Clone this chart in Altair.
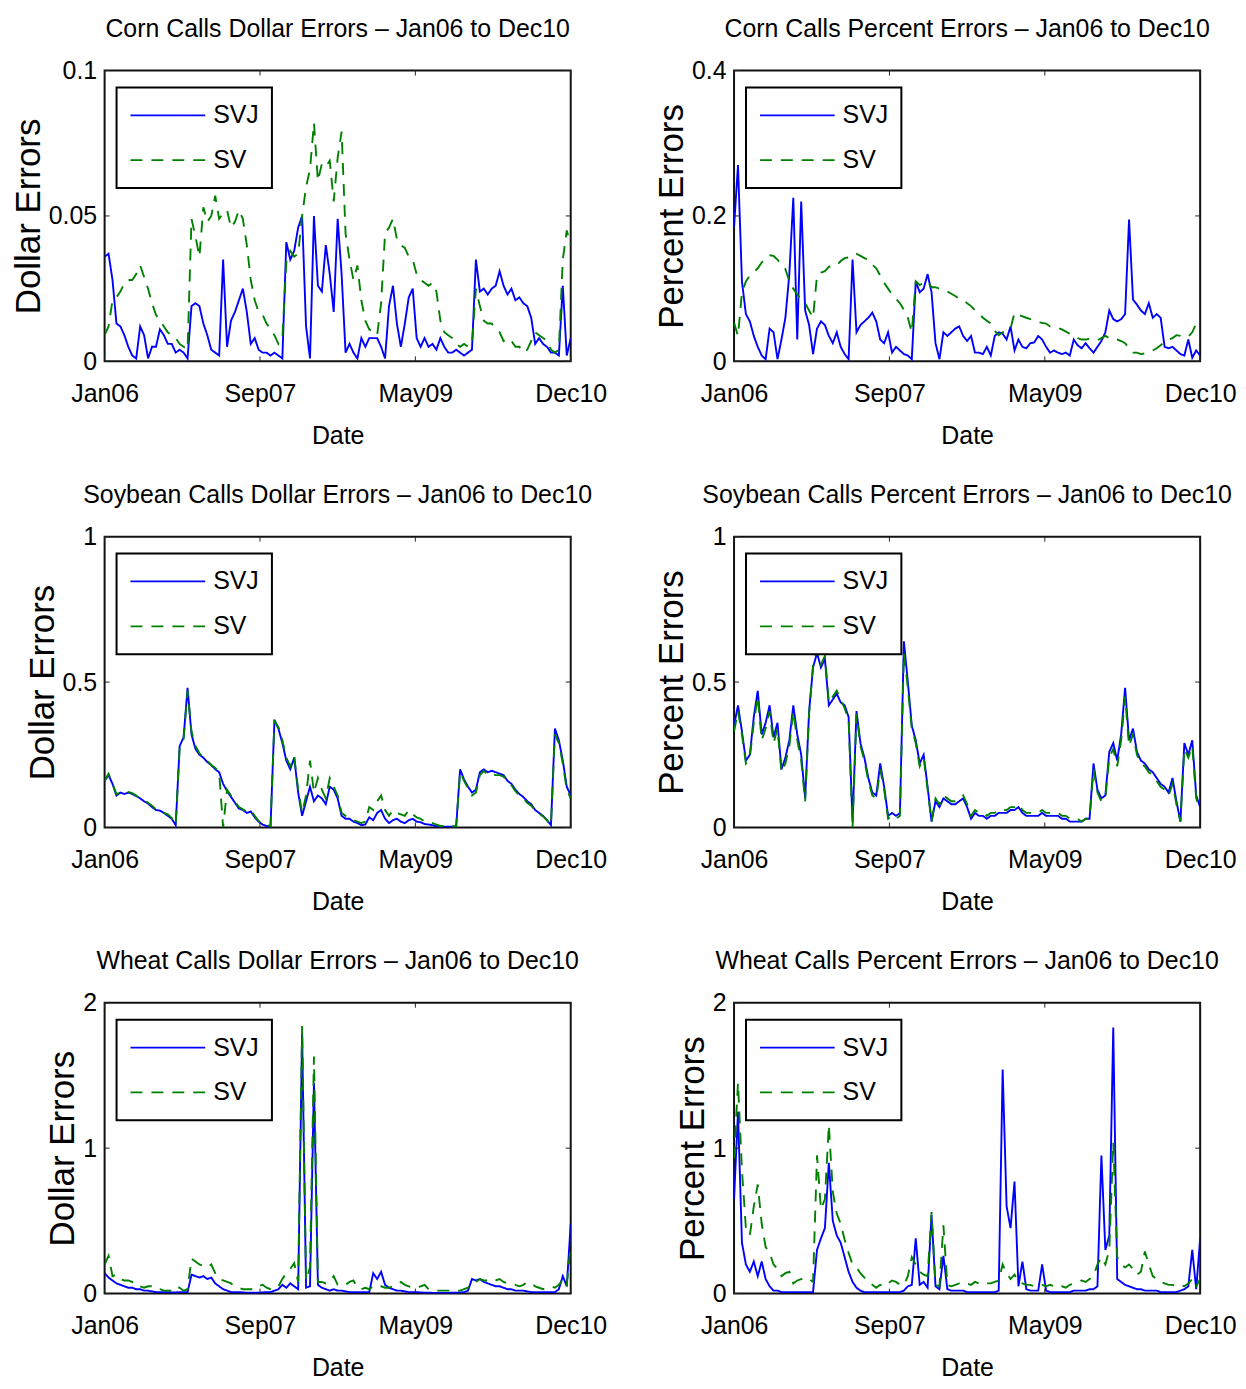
import json
import altair as alt
import pandas as pd

FONT = "'Liberation Sans', Arial, sans-serif"

SERIES = ["SVJ", "SV"]
COLORS = ["#0000ff", "#008000"]
DASHES = [[1, 0], [12, 9]]
X_TICK_LABELS = ["Jan06", "Sep07", "May09", "Dec10"]
N_MONTHS = 59  # months from Jan06 to Dec10
X_TICKS = [0, N_MONTHS / 3, 2 * N_MONTHS / 3, N_MONTHS]
MONTHS = [k * 0.5 for k in range(119)]  # half-month sampling grid

CORN_DOLLAR_SVJ = [
    .036, .037, .028, .013, .012, .009, .005, .002, .001, .012,
    .009, .001, .005, .005, .011, .009, .006, .006, .003, .004,
    .003, .001, .019, .020, .019, .013, .009, .004, .003, .002,
    .035, .005, .014, .017, .021, .025, .017, .006, .008, .004,
    .003, .003, .002, .003, .002, .001, .041, .035, .038, .046,
    .050, .012, .001, .050, .026, .024, .040, .030, .017, .049,
    .030, .003, .006, .003, .001, .008, .005, .008, .008, .008,
    .005, .001, .019, .026, .013, .005, .013, .022, .025, .008,
    .005, .008, .005, .006, .004, .008, .005, .003, .003, .004,
    .003, .002, .003, .004, .035, .024, .025, .023, .025, .026,
    .031, .026, .023, .025, .021, .022, .020, .019, .015, .006,
    .008, .006, .005, .003, .003, .002, .026, .002, .008]
CORN_DOLLAR_SV = [
    .009, .012, .021, .022, .024, .027, .028, .028, .030, .033,
    .029, .025, .020, .016, .014, .012, .010, .009, .008, .006,
    .005, .004, .049, .043, .036, .053, .048, .050, .057, .049,
    .051, .052, .046, .048, .052, .049, .040, .028, .021, .017,
    .016, .013, .011, .009, .006, .008, .034, .038, .036, .037,
    .050, .060, .066, .082, .062, .068, .067, .069, .055, .070,
    .079, .044, .035, .028, .033, .021, .014, .011, .010, .009,
    .020, .044, .046, .049, .042, .040, .039, .036, .035, .030,
    .028, .027, .026, .027, .024, .014, .010, .009, .008, .006,
    .005, .006, .005, .006, .025, .019, .014, .013, .013, .011,
    .010, .007, .008, .007, .005, .005, .003, .004, .007, .010,
    .009, .008, .007, .004, .003, .004, .035, .045, .040]

CORN_PCT_SVJ = [
    .185, .270, .110, .065, .055, .035, .020, .008, .003, .045,
    .040, .003, .030, .060, .120, .225, .030, .220, .070, .050,
    .010, .045, .055, .050, .035, .025, .040, .020, .010, .003,
    .140, .040, .050, .055, .060, .067, .055, .030, .025, .040,
    .012, .020, .015, .010, .008, .003, .110, .095, .100, .120,
    .095, .025, .003, .040, .035, .040, .045, .048, .035, .028,
    .035, .012, .012, .010, .020, .008, .035, .040, .038, .030,
    .048, .015, .030, .020, .018, .025, .026, .035, .030, .020,
    .012, .015, .012, .010, .012, .008, .030, .022, .018, .025,
    .018, .012, .020, .028, .040, .070, .058, .055, .058, .065,
    .195, .085, .078, .070, .065, .080, .060, .065, .060, .020,
    .018, .020, .015, .010, .008, .030, .005, .015, .008]
CORN_PCT_SV = [
    .053, .035, .095, .110, .118, .123, .128, .136, .142, .146,
    .145, .140, .132, .127, .110, .100, .092, .085, .080, .070,
    .060, .118, .122, .124, .130, .132, .132, .138, .142, .143,
    .145, .148, .145, .142, .140, .133, .128, .118, .108, .100,
    .092, .086, .080, .071, .060, .040, .110, .105, .108, .110,
    .102, .102, .100, .098, .096, .093, .090, .086, .084, .080,
    .076, .070, .066, .060, .056, .052, .042, .036, .040, .042,
    .045, .067, .064, .062, .060, .058, .057, .054, .053, .052,
    .048, .047, .046, .044, .041, .038, .036, .032, .030, .030,
    .031, .030, .029, .032, .035, .032, .030, .030, .028, .025,
    .018, .012, .012, .010, .011, .013, .015, .018, .022, .028,
    .030, .032, .036, .035, .033, .034, .040, .052, .053]

SOY_DOLLAR_SVJ = [
    .160, .180, .150, .110, .120, .115, .120, .115, .108, .100,
    .090, .082, .070, .060, .058, .050, .040, .030, .008, .280,
    .310, .480, .320, .270, .250, .240, .225, .215, .200, .190,
    .150, .125, .105, .085, .065, .060, .050, .055, .035, .020,
    .010, .005, .003, .370, .340, .290, .230, .200, .240, .120,
    .040, .090, .140, .090, .110, .100, .080, .140, .130, .100,
    .040, .030, .030, .020, .015, .008, .010, .035, .025, .050,
    .060, .030, .015, .025, .030, .020, .015, .025, .030, .020,
    .018, .012, .010, .008, .004, .003, .003, .003, .003, .003,
    .200, .165, .140, .120, .130, .190, .200, .190, .195, .190,
    .185, .180, .160, .150, .130, .115, .105, .090, .080, .060,
    .050, .040, .025, .008, .340, .300, .230, .140, .110]
SOY_DOLLAR_SV = [
    .160, .185, .150, .115, .120, .120, .122, .118, .110, .100,
    .095, .085, .075, .062, .060, .050, .045, .032, .008, .275,
    .305, .470, .330, .280, .255, .240, .230, .215, .205, .190,
    .000, .130, .110, .090, .070, .062, .055, .060, .040, .022,
    .012, .008, .005, .365, .345, .300, .240, .210, .245, .130,
    .050, .110, .230, .120, .170, .130, .100, .170, .140, .110,
    .050, .040, .035, .025, .020, .015, .020, .070, .060, .090,
    .110, .060, .040, .060, .050, .045, .040, .060, .045, .035,
    .030, .020, .020, .015, .010, .005, .005, .004, .004, .004,
    .190, .160, .135, .110, .120, .180, .195, .180, .185, .180,
    .180, .175, .155, .145, .125, .110, .100, .085, .075, .058,
    .048, .038, .025, .008, .320, .290, .220, .130, .100]

SOY_PCT_SVJ = [
    .35, .42, .33, .23, .25, .38, .47, .32, .36, .42,
    .31, .36, .20, .24, .30, .42, .32, .25, .10, .40,
    .55, .60, .55, .58, .42, .44, .46, .43, .42, .38,
    .02, .40, .29, .24, .17, .12, .11, .22, .14, .04,
    .05, .04, .05, .64, .50, .35, .30, .22, .25, .14,
    .02, .09, .07, .10, .09, .08, .08, .09, .10, .07,
    .03, .05, .04, .04, .03, .04, .04, .05, .05, .05,
    .06, .06, .07, .05, .04, .04, .04, .04, .05, .04,
    .04, .04, .04, .03, .03, .02, .02, .02, .02, .03,
    .03, .22, .13, .10, .11, .26, .29, .23, .32, .48,
    .30, .34, .26, .23, .22, .20, .19, .17, .15, .14,
    .12, .17, .09, .02, .29, .25, .30, .11, .07]
SOY_PCT_SV = [
    .33, .40, .32, .22, .24, .36, .45, .30, .34, .40,
    .29, .34, .19, .22, .28, .40, .30, .23, .09, .39,
    .56, .61, .56, .59, .43, .45, .47, .44, .41, .37,
    .00, .39, .28, .23, .16, .11, .10, .20, .13, .03,
    .04, .03, .04, .60, .48, .34, .29, .21, .24, .13,
    .02, .10, .08, .11, .10, .09, .09, .10, .11, .08,
    .04, .06, .05, .05, .04, .05, .05, .06, .06, .06,
    .07, .07, .08, .06, .05, .05, .05, .05, .06, .05,
    .05, .05, .05, .04, .04, .03, .03, .03, .02, .03,
    .03, .20, .12, .09, .10, .24, .27, .21, .30, .45,
    .28, .32, .25, .22, .21, .19, .18, .16, .14, .13,
    .11, .15, .08, .02, .27, .24, .28, .10, .06]

WHEAT_DOLLAR_SVJ = [
    .14, .11, .09, .07, .06, .05, .04, .04, .03, .03,
    .02, .02, .015, .01, .01, .01, .01, .008, .008, .01,
    .01, .01, .13, .12, .11, .12, .10, .11, .07, .05,
    .03, .02, .01, .01, .01, .008, .006, .006, .006, .006,
    .008, .01, .01, .02, .03, .06, .04, .07, .05, .03,
    1.79, .04, .05, 1.45, .06, .04, .03, .02, .03, .02,
    .02, .015, .01, .01, .01, .01, .01, .01, .14, .10,
    .15, .06, .04, .03, .02, .02, .015, .01, .01, .01,
    .008, .006, .006, .005, .005, .005, .005, .005, .006, .006,
    .008, .01, .02, .10, .09, .10, .08, .07, .06, .05,
    .05, .04, .03, .03, .02, .02, .02, .015, .01, .01,
    .01, .01, .01, .01, .01, .03, .12, .05, .48]
WHEAT_DOLLAR_SV = [
    .20, .26, .12, .13, .10, .09, .09, .08, .08, .05,
    .04, .05, .05, .03, .03, .02, .02, .02, .05, .04,
    .02, .03, .24, .22, .20, .19, .18, .20, .14, .10,
    .09, .08, .07, .05, .04, .03, .03, .03, .03, .05,
    .06, .04, .03, .03, .05, .10, .14, .17, .21, .08,
    1.84, .09, .18, 1.63, .08, .08, .07, .08, .12, .06,
    .05, .06, .08, .09, .04, .03, .04, .03, .05, .04,
    .05, .04, .04, .05, .06, .08, .06, .05, .04, .04,
    .05, .06, .03, .02, .02, .02, .02, .02, .02, .02,
    .02, .03, .04, .07, .08, .10, .09, .09, .08, .09,
    .10, .08, .07, .06, .06, .05, .06, .08, .07, .05,
    .04, .03, .04, .05, .04, .06, .10, .06, .33]

WHEAT_PCT_SVJ = [
    .65, 1.25, .35, .20, .15, .22, .12, .22, .10, .05,
    .02, .02, .01, .01, .01, .01, .01, .01, .01, .01,
    .01, .30, .38, .45, .90, .50, .40, .35, .25, .15,
    .08, .04, .02, .01, .01, .01, .01, .01, .01, .01,
    .01, .01, .01, .02, .05, .06, .38, .06, .08, .04,
    .54, .05, .03, .26, .03, .02, .02, .02, .02, .01,
    .01, .01, .01, .01, .01, .01, .01, .02, 1.54, .60,
    .45, .77, .05, .22, .03, .02, .02, .02, .20, .02,
    .01, .01, .01, .01, .01, .01, .02, .02, .02, .02,
    .03, .03, .05, .95, .30, .40, 1.83, .10, .08, .06,
    .05, .04, .03, .03, .02, .02, .02, .02, .01, .01,
    .01, .01, .01, .02, .03, .05, .30, .03, .38]
WHEAT_PCT_SV = [
    .93, 1.45, .85, .45, .40, .60, .75, .48, .32, .28,
    .20, .17, .12, .14, .15, .07, .09, .10, .11, .10,
    .08, .95, .58, .65, 1.16, .70, .55, .48, .37, .28,
    .20, .18, .14, .11, .08, .06, .04, .06, .05, .07,
    .09, .08, .06, .06, .12, .25, .20, .15, .13, .12,
    .56, .06, .05, .47, .06, .05, .06, .07, .06, .07,
    .06, .08, .07, .08, .07, .07, .08, .09, .20, .14,
    .10, .13, .08, .07, .06, .06, .05, .06, .06, .05,
    .06, .05, .04, .05, .04, .06, .07, .08, .09, .08,
    .10, .12, .20, .25, .20, .30, 1.04, .25, .20, .18,
    .20, .17, .13, .15, .29, .20, .12, .10, .08, .07,
    .06, .06, .05, .06, .05, .07, .10, .05, .10]

PANELS = [
    ("Corn Calls Dollar Errors \u2013 Jan06 to Dec10", "Dollar Errors", [0, 0.05, 0.1], CORN_DOLLAR_SVJ, CORN_DOLLAR_SV),
    ("Corn Calls Percent Errors \u2013 Jan06 to Dec10", "Percent Errors", [0, 0.2, 0.4], CORN_PCT_SVJ, CORN_PCT_SV),
    ("Soybean Calls Dollar Errors \u2013 Jan06 to Dec10", "Dollar Errors", [0, 0.5, 1], SOY_DOLLAR_SVJ, SOY_DOLLAR_SV),
    ("Soybean Calls Percent Errors \u2013 Jan06 to Dec10", "Percent Errors", [0, 0.5, 1], SOY_PCT_SVJ, SOY_PCT_SV),
    ("Wheat Calls Dollar Errors \u2013 Jan06 to Dec10", "Dollar Errors", [0, 1, 2], WHEAT_DOLLAR_SVJ, WHEAT_DOLLAR_SV),
    ("Wheat Calls Percent Errors \u2013 Jan06 to Dec10", "Percent Errors", [0, 1, 2], WHEAT_PCT_SVJ, WHEAT_PCT_SV),
]

for p in PANELS:
    assert len(p[3]) == len(MONTHS) and len(p[4]) == len(MONTHS), p[0]

W, H = 468, 292
TICK = 5
TICK_COLOR = "#222222"
X_LABEL_EXPR = json.dumps(X_TICK_LABELS) + "[round(datum.index * %d)]" % (len(X_TICK_LABELS) - 1)


def panel(title, ytitle, yticks, svj, sv):
    ymax = yticks[-1]
    df = pd.DataFrame({
        "month": MONTHS + MONTHS,
        "err": svj + sv,
        "series": [SERIES[0]] * len(svj) + [SERIES[1]] * len(sv),
    })
    xs = alt.Scale(domain=[0, N_MONTHS], nice=False, zero=False)
    ys = alt.Scale(domain=[0, ymax], nice=False)
    leg = alt.Legend(
        title=None, orient="none", legendX=12, legendY=17,
        symbolType="stroke", symbolSize=5625, symbolStrokeWidth=1.8,
        labelFont=FONT, labelFontSize=25, labelColor="black", labelOffset=7,
        padding=13, rowPadding=15, clipHeight=30,
        strokeColor="black", fillColor="white", cornerRadius=0,
    )
    lines = alt.Chart(df).mark_line(strokeWidth=1.9, clip=True).encode(
        x=alt.X("month:Q", scale=xs, axis=alt.Axis(
            values=X_TICKS, labelExpr=X_LABEL_EXPR, title="Date",
            labelFlush=False, labelOverlap=False, labelPadding=20, titlePadding=17)),
        y=alt.Y("err:Q", scale=ys, axis=alt.Axis(
            values=yticks, format="~g", title=ytitle, titleFontSize=35,
            labelFlush=False, labelOverlap=False, labelPadding=8, titlePadding=2)),
        color=alt.Color("series:N", scale=alt.Scale(domain=SERIES, range=COLORS), legend=leg),
        strokeDash=alt.StrokeDash("series:N", scale=alt.Scale(domain=SERIES, range=DASHES), legend=leg),
    )
    xt = pd.DataFrame({"t": X_TICKS})
    yt = pd.DataFrame({"t": yticks})
    rule = dict(color=TICK_COLOR, strokeWidth=1)
    top = alt.Chart(xt).mark_rule(**rule).encode(
        x=alt.X("t:Q", scale=xs), y=alt.value(0), y2=alt.value(TICK))
    bottom = alt.Chart(xt).mark_rule(**rule).encode(
        x=alt.X("t:Q", scale=xs), y=alt.value(H), y2=alt.value(H - TICK))
    left = alt.Chart(yt).mark_rule(**rule).encode(
        y=alt.Y("t:Q", scale=ys), x=alt.value(0), x2=alt.value(TICK))
    right = alt.Chart(yt).mark_rule(**rule).encode(
        y=alt.Y("t:Q", scale=ys), x=alt.value(W), x2=alt.value(W - TICK))
    return alt.layer(lines, top, bottom, left, right).properties(
        width=W, height=H, title=title)


charts = [panel(*p) for p in PANELS]

chart = alt.concat(
    *charts, columns=2, spacing={"row": 176, "column": 164}
).properties(
    bounds="flush",
    padding={"left": 2, "top": 5, "right": 0, "bottom": 0},
).resolve_scale(
    color="independent", strokeDash="independent"
).resolve_legend(
    color="independent", strokeDash="independent"
).configure_view(
    stroke="#111111", strokeWidth=2
).configure_axis(
    labelFont=FONT, labelFontSize=25, labelColor="black",
    titleFont=FONT, titleFontSize=25, titleFontWeight="normal", titleColor="black",
    grid=False, ticks=False, domain=False,
).configure_title(
    font=FONT, fontSize=25, fontWeight="normal", color="black",
    anchor="middle", frame="group", offset=17,
).configure_legend(
    strokeWidth=2
)

chart.save("out.html", embed_options={"renderer": "svg", "actions": False})
